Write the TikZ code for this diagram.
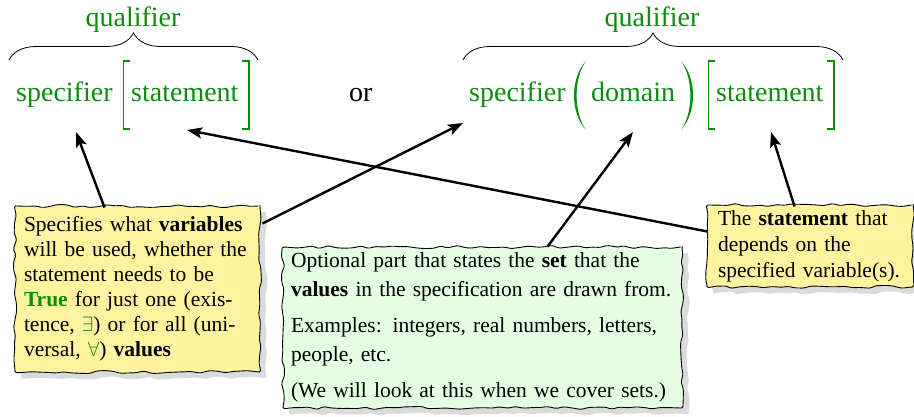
\documentclass[tikz,border=0pt]{standalone}
\usepackage{fontspec}
\setmainfont{Liberation Serif}
\usetikzlibrary{decorations.pathmorphing,decorations.pathreplacing,shadows,arrows.meta,calc}
\definecolor{qgreen}{rgb}{0.05,0.55,0.05}
\definecolor{noteyellow}{RGB}{255,243,160}
\definecolor{notegreen}{RGB}{228,255,226}
% large formula words: the note size, scaled up
\newcommand{\formulatext}[1]{\scalebox{1.3023}{\fontsize{21.5}{25}\selectfont #1}}

\begin{document}
\pgfmathsetseed{7}
\begin{tikzpicture}[x=1pt,y=-1pt,
  big/.style={inner sep=0pt, text=qgreen},
  note/.style={draw=black, line width=0.9pt, inner ysep=0pt, align=left,
    font=\fontsize{21.5}{25}\selectfont,
    decorate, decoration={random steps, segment length=8pt, amplitude=1.6pt},
    rounded corners=1.5pt,
    drop shadow={shadow xshift=6pt, shadow yshift=-6pt, fill=black!28}},
  pointer/.style={line width=2.4pt, -{Stealth[length=15pt,width=11pt,inset=3pt]}},
  topbrace/.style={decorate, decoration={brace, amplitude=27pt}, line width=0.8pt},
  bracket/.style={qgreen, line width=1.3pt, line join=miter}
]
\useasboundingbox (0,0) rectangle (914,417);

% the two forms of a quantified statement
\node[big, anchor=base] (qual1) at (133,27) {\formulatext{qualifier}};
\node[big, anchor=base] (qual2) at (652,27) {\formulatext{qualifier}};
\node[big, anchor=base west] (spec1) at (16,102) {\formulatext{specifier}};
\node[big, anchor=base west] (stmt1) at (131,102) {\formulatext{statement}};
\node[big, anchor=base west, text=black] (or) at (349,102) {\formulatext{or}};
\node[big, anchor=base west] (spec2) at (469,102) {\formulatext{specifier}};
\node[big, anchor=base west] (dom) at (591,102) {\formulatext{domain}};
\node[big, anchor=base west] (stmt2) at (716,102) {\formulatext{statement}};

% braces over each form
\draw[topbrace] (9,60) -- (258,60);
\draw[topbrace] (463,60) -- (843,60);

% square brackets
\draw[bracket] (129.5,61) -| (123.5,129) -- (129.5,129);
\draw[bracket] (242,61) -| (249,129) -- (242,129);
\draw[bracket] (715,61) -| (708.5,129) -- (715,129);
\draw[bracket] (827,61) -| (834,129) -- (827,129);

% parentheses round the domain
\fill[qgreen] (586,61) .. controls (570,78) and (570,113) .. (586,130)
  .. controls (573.5,113) and (573.5,78) .. (586,61) -- cycle;
\fill[qgreen] (681,61) .. controls (697,78) and (697,113) .. (681,130)
  .. controls (693.5,113) and (693.5,78) .. (681,61) -- cycle;

% explanatory notes
\node[note, fill=noteyellow, text width=227pt, inner xsep=9pt, minimum height=166pt]
  (vars) at (137.5,289)
  {Specifies what \textbf{variables}\\ will be used, whether the\\ statement needs to be\\
   \textcolor{qgreen}{\textbf{True}} for just one (exis-\\ tence, \textcolor{qgreen}{$\exists$}) or for all (uni-\\
   versal, \textcolor{qgreen}{$\forall$}) \textbf{values}};

\node[note, fill=notegreen, text width=383pt, inner xsep=8pt, minimum height=161pt,
  font=\fontsize{21.5}{29}\selectfont]
  (domnote) at (482.5,327.5)
  {Optional part that states the \textbf{set} that the\\ \textbf{values} in the specification are drawn from.\\[7pt]
   Examples: integers, real numbers, letters,\\ people, etc.\\[7pt]
   (We will look at this when we cover sets.)};

\node[note, fill=noteyellow, text width=196pt, inner xsep=5pt, minimum height=82pt,
  font=\fontsize{21.5}{26}\selectfont]
  (stmtnote) at (810,246)
  {\hspace*{6pt}The \textbf{statement} that\\ \hspace*{6pt}depends on the\\ \hspace*{6pt}specified variable(s).};

% arrow targets below the formula parts
\coordinate (t1) at (76,132);
\coordinate (t2) at (463,123);
\coordinate (t3) at (633,132);
\coordinate (t4) at (187,130);
\coordinate (t5) at (771,132);

% pointers from notes to the parts they describe
\draw[pointer] ($(vars.north west)+(90,2)$) -- (t1);
\draw[pointer] ($(vars.north east)+(2,18)$) -- (t2);
\draw[pointer] ($(domnote.north west)+(265,0)$) -- (t3);
\draw[pointer] ($(stmtnote.north west)+(1,27)$) -- (t4);
\draw[pointer] ($(stmtnote.north west)+(88,2)$) -- (t5);
\end{tikzpicture}
\end{document}
